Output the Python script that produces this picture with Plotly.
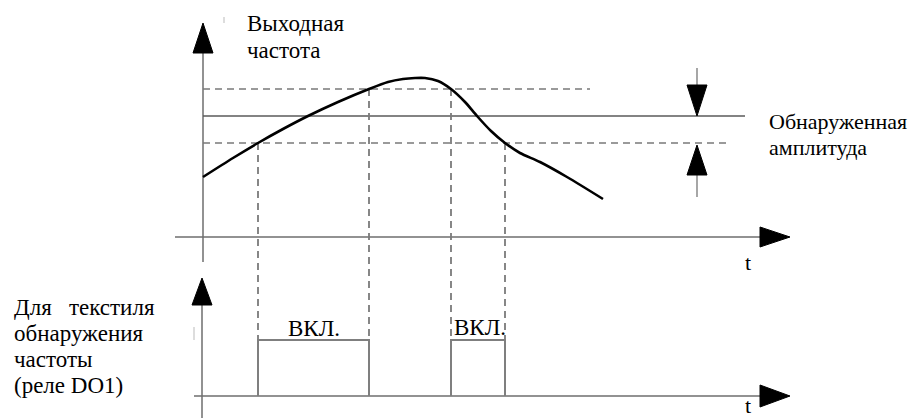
import plotly.graph_objects as go

# ---- data (diagram units: t = time, f = output frequency) ----
curve_t = [0, 30, 55, 80, 105, 135, 166, 185, 200, 212, 222, 235, 248, 262, 274, 288, 302, 317, 337, 364, 400]
curve_f = [60, 79, 94, 108, 121, 135, 148, 155, 158, 159, 159, 156, 148, 135, 121, 106, 94, 84, 75, 60, 38]

upper_level = 148     # upper dashed threshold
detect_level = 121    # detected frequency (solid)
lower_level = 94      # lower dashed threshold
upper_end, detect_end, lower_end = 387, 542, 527

on_start = [55, 248]
on_end = [166, 302]
on_label = ["ВКЛ.", "ВКЛ."]

freq_title = ["Выходная", "частота"]
amp_title = ["Обнаруженная", "амплитуда"]
relay_title = ["Для\u00a0\u00a0 текстиля", "обнаружения", "частоты", "(реле DO1)"]

# ---- layout constants ----
RELAY_OFF = -159      # y of relay axis
RELAY_H = 56          # height of relay ON pulse
T_MIN, T_MAX = -203, 717
F_MIN, F_MAX = -181, 237
FONT = "Liberation Serif, Times New Roman, serif"
AX_COL = "#6e6e6e"
DASH_COL = "#7a7a7a"

fig = go.Figure()


def line(xs, ys, color=AX_COL, width=1.5, dash=None):
    fig.add_trace(go.Scatter(x=xs, y=ys, mode="lines", hoverinfo="skip",
                             line=dict(color=color, width=width, dash=dash)))


def head(tip_x, tip_y, direction, length=30, half=10):
    if direction == "up":
        xs = [tip_x, tip_x - half, tip_x + half, tip_x]
        ys = [tip_y, tip_y - length, tip_y - length, tip_y]
    elif direction == "down":
        xs = [tip_x, tip_x - half, tip_x + half, tip_x]
        ys = [tip_y, tip_y + length, tip_y + length, tip_y]
    else:  # right
        xs = [tip_x, tip_x - length, tip_x - length, tip_x]
        ys = [tip_y, tip_y + half, tip_y - half, tip_y]
    fig.add_trace(go.Scatter(x=xs, y=ys, mode="lines", fill="toself",
                             fillcolor="black", hoverinfo="skip",
                             line=dict(color="black", width=1)))


# upper axes
line([0, 0], [-25, 184])
head(0, 214, "up")
line([-28, 557], [0, 0])
head(587, 0, "right")

# lower (relay) axes
relay_on = RELAY_OFF + RELAY_H
line([-1, -1], [F_MIN, RELAY_OFF + 91])
head(-1, RELAY_OFF + 118, "up", length=27)
line([-9, 557], [RELAY_OFF, RELAY_OFF])
head(587, RELAY_OFF, "right", half=11)

# threshold lines
line([0, upper_end], [upper_level] * 2, color=DASH_COL, width=1.5, dash="7px,5px")
line([0, detect_end], [detect_level] * 2, color="#5a5a5a", width=1.5)
line([0, lower_end], [lower_level] * 2, color=DASH_COL, width=1.5, dash="7px,5px")

# vertical dashed projections
starts_f = [lower_level, upper_level]
ends_f = [upper_level, lower_level]
for s, e, fs, fe in zip(on_start, on_end, starts_f, ends_f):
    line([s, s], [fs, relay_on], color=DASH_COL, width=1.8, dash="7px,5px")
    line([e, e], [fe, relay_on], color=DASH_COL, width=1.8, dash="7px,5px")

# relay pulses
for s, e in zip(on_start, on_end):
    line([s, s, e, e], [RELAY_OFF, relay_on, relay_on, RELAY_OFF], color="#7f7f7f", width=2)

# detection amplitude arrows
arrow_t = 494
line([arrow_t, arrow_t], [169, 150], color="#777777", width=1.3)
head(arrow_t, detect_level, "down", length=31)
line([arrow_t, arrow_t], [62, 40], color="#777777", width=1.3)
head(arrow_t, lower_level - 2, "up", length=30)

# small scan artifacts
line([21, 21], [214, 220], color="#bbbbbb", width=1)
line([-9, -9], [relay_on + 13, relay_on], color="#bbbbbb", width=1)

# frequency curve
fig.add_trace(go.Scatter(x=curve_t, y=curve_f, mode="lines", hoverinfo="skip",
                         line=dict(color="black", width=2.6, shape="spline", smoothing=0.8)))


def text(x, y, s, size=23, anchor="left"):
    fig.add_annotation(x=x, y=y, xref="x", yref="y", text=s, showarrow=False,
                       xanchor=anchor, yanchor="middle",
                       font=dict(family=FONT, size=size, color="black"))


for i, s in enumerate(freq_title):
    text(42, 214 - 27 * i, s)
for i, s in enumerate(amp_title):
    text(564, 116 - 26 * i, s, size=22)
for i, s in enumerate(relay_title):
    text(-191, -70 - 26.3 * i, s)
text((on_start[0] + on_end[0]) / 2, relay_on + 12, on_label[0], anchor="center")
text(on_start[1] + 1, relay_on + 13, on_label[1])
text(545, -25, "t", size=22, anchor="center")
text(545, RELAY_OFF - 9, "t", size=22, anchor="center")

fig.update_layout(
    width=920, height=418, margin=dict(l=0, r=0, t=0, b=0),
    paper_bgcolor="white", plot_bgcolor="white", showlegend=False,
    xaxis=dict(range=[T_MIN, T_MAX], visible=False, fixedrange=True),
    yaxis=dict(range=[F_MIN, F_MAX], visible=False, fixedrange=True),
)

post = (
    "document.body.style.margin='0';document.body.style.padding='0';"
    "document.body.style.overflow='hidden';"
    "var st=document.createElement('style');"
    "st.textContent='.annotation-text{font-family:\"Liberation Serif\",\"Times New Roman\",serif !important;}';"
    "document.head.appendChild(st);"
)
fig.write_html("out.html", config={"displayModeBar": False}, post_script=post)
